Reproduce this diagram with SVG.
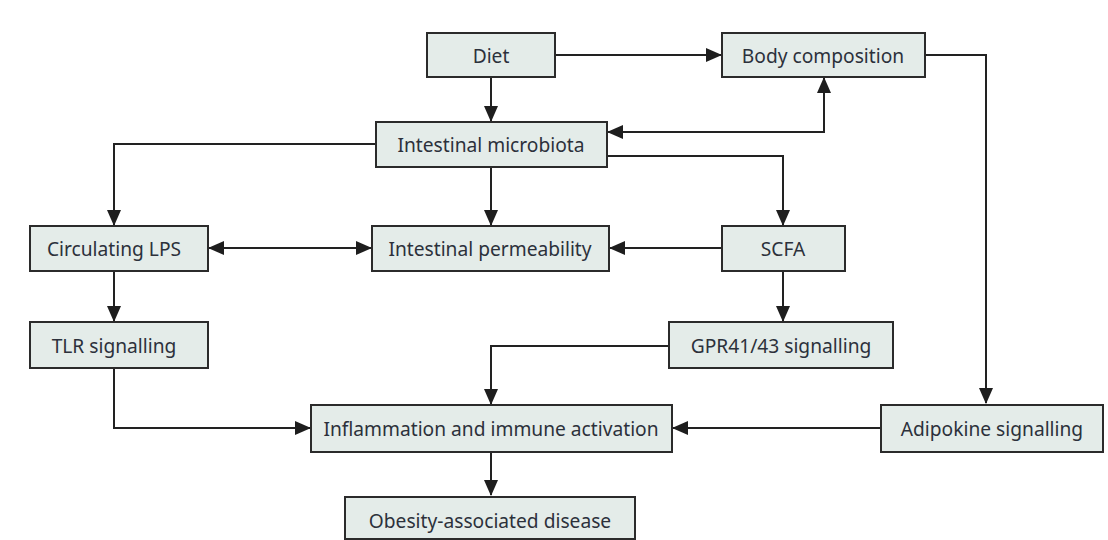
<svg xmlns="http://www.w3.org/2000/svg" width="1108" height="540" viewBox="0 0 1108 540">
<style>
.box{fill:#e4ece9;stroke:#2b2b2b;stroke-width:2}
.lbl{font-family:"Noto Sans","Liberation Sans",sans-serif;font-size:19.2px;fill:#2c313b;text-anchor:middle;dominant-baseline:central}
.ln{fill:none;stroke:#222;stroke-width:2}
</style>
<defs>
<marker id="ah" markerUnits="userSpaceOnUse" markerWidth="16" markerHeight="14" refX="15" refY="7" orient="auto-start-reverse">
<path d="M0,0 L16,7 L0,14 Z" fill="#1e1e1e"/>
</marker>
</defs>
<rect width="1108" height="540" fill="#ffffff"/>
<g id="connectors">
<path class="ln" d="M555,55 H721" marker-end="url(#ah)"/>
<path class="ln" d="M491,77 V121" marker-end="url(#ah)"/>
<path class="ln" d="M608,132 H824 V78" marker-start="url(#ah)" marker-end="url(#ah)"/>
<path class="ln" d="M376,144 H114 V225" marker-end="url(#ah)"/>
<path class="ln" d="M491,167 V225" marker-end="url(#ah)"/>
<path class="ln" d="M607,156 H783 V225" marker-end="url(#ah)"/>
<path class="ln" d="M209,248 H371" marker-start="url(#ah)" marker-end="url(#ah)"/>
<path class="ln" d="M722,248 H610" marker-end="url(#ah)"/>
<path class="ln" d="M114,271 V321" marker-end="url(#ah)"/>
<path class="ln" d="M783,271 V321" marker-end="url(#ah)"/>
<path class="ln" d="M925,55 H986 V403" marker-end="url(#ah)"/>
<path class="ln" d="M114,368 V428 H310" marker-end="url(#ah)"/>
<path class="ln" d="M669,346 H491 V404" marker-end="url(#ah)"/>
<path class="ln" d="M881,428 H673" marker-end="url(#ah)"/>
<path class="ln" d="M491,452 V495" marker-end="url(#ah)"/>
</g>
<g id="diet"><rect class="box" x="427" y="33" width="128" height="44"/><text class="lbl" x="491" y="55">Diet</text></g>
<g id="body"><rect class="box" x="722" y="33" width="203" height="44"/><text class="lbl" x="823" y="55">Body composition</text></g>
<g id="microbiota"><rect class="box" x="376" y="122" width="231" height="45"/><text class="lbl" x="491" y="144">Intestinal microbiota</text></g>
<g id="lps"><rect class="box" x="30" y="226" width="178" height="45"/><text class="lbl" x="114" y="248">Circulating LPS</text></g>
<g id="permeability"><rect class="box" x="372" y="226" width="237" height="45"/><text class="lbl" x="490" y="248">Intestinal permeability</text></g>
<g id="scfa"><rect class="box" x="722" y="226" width="123" height="45"/><text class="lbl" x="783" y="248">SCFA</text></g>
<g id="tlr"><rect class="box" x="30" y="322" width="178" height="46"/><text class="lbl" x="114" y="345">TLR signalling</text></g>
<g id="gpr"><rect class="box" x="669" y="322" width="224" height="46"/><text class="lbl" x="781" y="345">GPR41/43 signalling</text></g>
<g id="inflammation"><rect class="box" x="311" y="405" width="361" height="47"/><text class="lbl" x="491" y="428">Inflammation and immune activation</text></g>
<g id="adipokine"><rect class="box" x="881" y="405" width="222" height="47"/><text class="lbl" x="992" y="428">Adipokine signalling</text></g>
<g id="obesity"><rect class="box" x="345" y="497" width="290" height="42"/><text class="lbl" x="490" y="520">Obesity-associated disease</text></g>
</svg>
